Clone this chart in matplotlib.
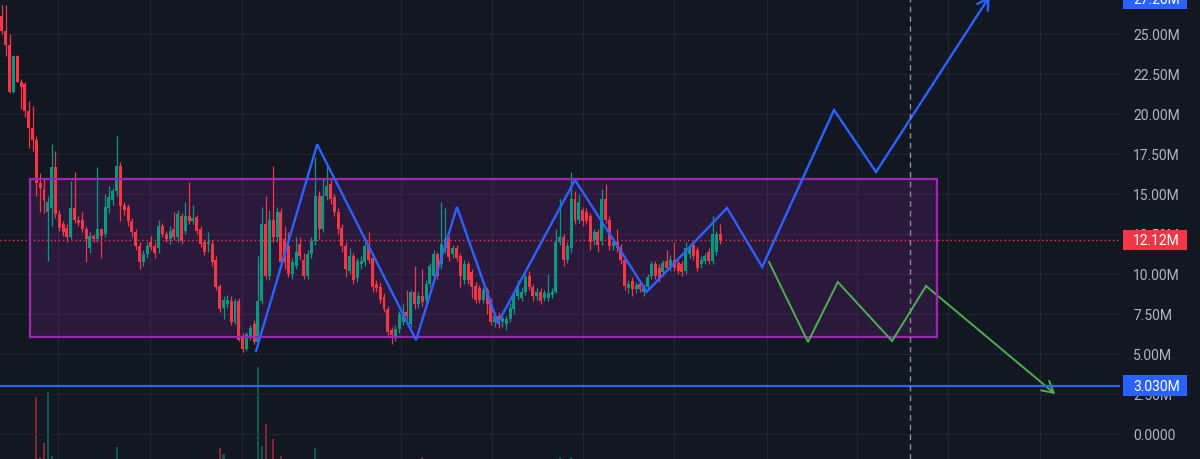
import numpy as np
import matplotlib.pyplot as plt
import matplotlib.patches as patches
import matplotlib.transforms as mtransforms

plt.rcParams['font.family'] = ['Roboto', 'DejaVu Sans']

# daily candles (values in millions)
opens = [
    26.1, 25.2, 24.3, 21.4, 23.6, 22.0, 21.9, 20.2, 19.1, 18.4,
    15.7, 15.3, 13.9, 14.1, 16.7, 13.75, 13.1, 12.9, 12.3, 14.1,
    13.4, 13.4, 12.8, 11.6, 12.4, 12.2, 12.8, 12.5, 14.1, 14.6,
    15.2, 16.75, 14.3, 14.2, 13.3, 12.6, 11.75, 10.75, 11.25, 12.0,
    11.75, 11.6, 13.0, 12.5,
    12.2, 12.8, 12.3, 13.6, 12.7, 13.6, 13.3, 13.55, 12.8, 12.0,
    11.9, 11.9, 10.9, 9.25, 7.9, 8.1, 8.3, 7.0, 8.3, 6.06,
    5.3, 6.1, 6.9, 5.75, 8.3, 13.1, 9.9, 13.4, 12.3, 13.9,
    12.2, 11.75, 10.0, 10.5, 11.9, 10.9, 9.9, 11.25, 12.05, 14.9,
    12.8, 14.9, 15.6, 14.8, 13.9, 12.9, 11.75,
    10.2, 11.1, 9.75, 10.6, 10.75, 11.75, 11.0, 9.4, 9.2, 8.55,
    7.8, 6.5, 6.06, 6.55, 7.0, 7.6, 6.9, 8.9, 8.1, 8.6,
    8.4, 9.4, 9.9, 11.25, 10.6, 11.6, 12.2, 11.25, 11.6, 11.1,
    9.6, 10.6, 10.1, 9.25, 9.1, 8.4, 9.0, 8.25, 7.0, 7.4, 7.0, 6.9, 7.2,
    7.8, 8.6, 8.5, 8.9, 9.9, 9.2, 8.6, 8.9, 8.5, 8.5,
    8.7, 8.9, 12.0, 12.3, 10.9, 11.6, 14.7, 13.4, 14.0, 13.9,
    13.6, 12.1, 12.6, 12.06, 14.7, 13.4, 11.75, 12.0, 11.7, 10.9,
    9.1, 9.55, 9.06, 9.4, 8.9, 9.2, 9.9, 10.6, 10.4, 10.1,
    10.8, 10.4, 10.9, 10.7, 10.6, 10.2, 11.25, 11.8, 11.5, 10.6,
    10.8, 11.4, 10.8, 11.4, 12.5,
]
highs = [
    26.8, 26.8, 25.0, 23.7, 23.7, 22.2, 22.0, 20.8, 20.5, 18.6,
    16.3, 16.0, 14.9, 18.1, 17.7, 14.0, 13.3, 13.1, 15.8, 16.4,
    13.6, 13.9, 13.0, 12.6, 12.5, 16.7, 12.9, 15.0, 15.5, 15.4,
    18.6, 17.0, 14.5, 14.4, 13.5, 12.8, 12.0, 11.5, 12.0, 12.4,
    12.0, 13.4, 13.2, 12.7,
    13.0, 13.9, 14.0, 13.8, 14.5, 15.75, 14.3, 13.7, 13.0, 12.2,
    12.6, 12.1, 11.1, 9.4, 8.6, 8.7, 8.6, 8.5, 8.5, 6.3,
    6.4, 6.8, 7.1, 11.1, 14.2, 14.9, 14.0, 16.75, 14.2, 14.1,
    13.0, 12.6, 11.0, 12.3, 12.3, 11.3, 11.5, 12.3, 17.3, 15.2,
    16.0, 16.9, 16.0, 15.0, 14.1, 13.1, 12.0,
    11.6, 11.3, 11.0, 11.1, 12.0, 12.6, 11.2, 9.6, 9.5, 8.8,
    8.0, 6.7, 6.8, 7.7, 8.2, 9.0, 9.0, 10.5, 8.9, 10.3,
    9.6, 10.7, 11.5, 11.4, 14.5, 14.1, 12.4, 11.8, 11.8, 11.3,
    10.9, 10.8, 10.3, 9.5, 9.3, 9.2, 9.2, 8.5, 7.6, 7.6, 7.4, 7.4, 8.2,
    8.8, 9.6, 9.2, 10.0, 10.2, 9.4, 9.1, 9.1, 9.0, 10.0,
    9.1, 12.8, 14.7, 12.5, 12.0, 16.4, 15.2, 15.0, 14.2, 14.1,
    13.8, 12.8, 12.8, 15.3, 15.6, 13.6, 12.3, 12.8, 11.9, 11.1,
    9.6, 9.8, 9.5, 9.6, 9.4, 10.0, 10.8, 10.8, 10.6, 10.9,
    11.5, 11.2, 12.0, 10.9, 10.8, 12.0, 11.9, 12.0, 11.7, 11.1,
    11.3, 11.6, 13.6, 12.7, 13.1,
]
lows = [
    25.0, 23.6, 21.3, 21.3, 22.0, 20.3, 19.8, 17.9, 17.7, 14.9,
    13.9, 13.8, 10.8, 13.0, 13.5, 12.7, 12.4, 12.0, 12.2, 13.2,
    13.0, 12.6, 10.75, 11.3, 12.0, 12.0, 11.0, 12.3, 13.8, 14.3,
    14.9, 13.3, 13.7, 13.0, 12.3, 11.5, 10.3, 10.5, 11.0, 11.5,
    11.0, 11.3, 12.3, 12.0,
    11.9, 12.1, 12.0, 11.9, 12.5, 13.1, 13.1, 12.5, 11.7, 11.2,
    11.4, 10.5, 9.0, 7.6, 7.2, 7.9, 6.8, 6.9, 5.8, 5.1,
    5.2, 5.9, 5.6, 5.6, 8.1, 9.7, 9.6, 12.0, 12.0, 10.5,
    10.3, 9.8, 9.7, 10.3, 10.9, 9.7, 9.7, 11.0, 11.8, 12.2,
    12.6, 14.6, 14.4, 13.6, 12.5, 11.4, 9.8,
    10.0, 9.4, 9.5, 10.3, 10.5, 10.7, 8.9, 8.9, 8.2, 7.6,
    6.2, 5.6, 5.8, 6.3, 6.8, 7.2, 6.7, 7.8, 7.9, 8.0,
    8.2, 9.2, 9.6, 9.7, 10.3, 11.3, 10.8, 11.0, 10.8, 9.2,
    9.4, 9.4, 8.5, 8.2, 8.2, 8.2, 7.5, 6.8, 6.7, 6.6, 6.7, 6.5, 7.0,
    7.5, 8.4, 8.3, 8.7, 9.0, 8.3, 8.4, 8.1, 8.3, 8.3,
    8.5, 8.8, 11.8, 10.5, 10.7, 11.3, 13.1, 13.2, 13.0, 13.1,
    11.5, 11.8, 11.4, 11.8, 13.2, 11.5, 11.5, 11.4, 10.6, 9.0,
    8.8, 8.6, 8.8, 8.9, 8.6, 9.0, 9.7, 9.7, 9.5, 9.9,
    10.2, 10.2, 10.2, 10.0, 9.9, 10.0, 11.0, 10.9, 10.2, 10.4,
    10.6, 10.6, 10.6, 11.2, 11.9,
]
closes = [
    25.2, 24.3, 21.4, 23.6, 22.0, 21.7, 20.2, 19.1, 18.4, 15.7,
    15.4, 14.6, 14.5, 16.7, 13.75, 12.9, 12.6, 12.3, 14.1, 13.4,
    13.2, 12.8, 12.2, 12.4, 12.2, 12.8, 12.4, 14.2, 14.8, 15.2,
    16.75, 14.25, 14.0, 13.3, 12.6, 11.75, 10.75, 11.25, 11.75, 11.7,
    11.3, 13.0, 12.5, 12.2,
    12.7, 12.3, 13.75, 12.05, 13.6, 13.3, 13.5, 12.7, 11.9, 11.4,
    12.0, 10.75, 9.2, 7.8, 8.4, 8.4, 7.0, 8.3, 5.9, 5.3,
    6.25, 6.6, 5.75, 8.3, 13.1, 9.9, 13.4, 12.3, 13.9, 10.75,
    10.75, 10.0, 10.75, 11.4, 11.1, 9.9, 11.25, 12.05, 14.9, 12.8,
    14.9, 15.5, 14.7, 13.9, 12.8, 11.75, 10.3,
    11.1, 9.6, 10.8, 10.8, 11.75, 10.9, 9.2, 9.1, 8.4, 7.8,
    6.4, 6.2, 6.55, 7.5, 7.6, 7.4, 8.9, 8.1, 8.6, 8.25,
    9.4, 10.5, 11.25, 9.9, 11.9, 12.2, 11.06, 11.6, 11.0, 9.9,
    10.6, 9.6, 9.2, 8.4, 8.4, 9.0, 8.1, 7.0, 7.4, 6.9, 7.25, 7.2, 7.9,
    8.6, 9.25, 8.9, 9.8, 9.2, 8.6, 8.9, 8.3, 8.8, 8.8,
    8.9, 12.0, 12.3, 10.9, 11.75, 14.7, 13.3, 14.5, 13.3, 13.3,
    12.0, 12.6, 11.8, 14.7, 13.4, 11.75, 12.0, 11.6, 10.9, 9.25,
    9.4, 9.06, 9.3, 9.06, 9.2, 9.8, 10.6, 9.9, 9.7, 10.7,
    10.4, 10.9, 10.4, 10.2, 10.1, 11.6, 11.7, 11.1, 10.4, 10.9,
    11.1, 10.8, 12.5, 12.5, 12.12,
]
volumes = [
    8, 7, 9, 6, 5, 6, 7, 6, 8, 72,
    12, 26, 77, 13, 9, 6, 5, 4, 7, 6,
    4, 5, 6, 4, 3, 8, 4, 6, 5, 4,
    22, 7, 4, 3, 4, 5, 6, 4, 3, 3,
    4, 6, 3, 3, 4, 5, 6, 5, 4, 7,
    3, 4, 5, 4, 3, 6, 8, 21, 15, 4,
    6, 5, 9, 8, 5, 4, 7, 102, 23, 45,
    9, 30, 8, 13, 6, 7, 4, 5, 4, 6,
    5, 6, 21, 9, 7, 8, 5, 4, 6, 7,
    8, 5, 6, 4, 3, 5, 4, 6, 3, 4,
    5, 7, 8, 5, 6, 4, 5, 7, 6, 4,
    12, 4, 6, 7, 5, 8, 6, 4, 3, 4,
    5, 4, 3, 4, 5, 4, 3, 5, 6, 4,
    3, 3, 4, 5, 6, 5, 3, 5, 4, 4,
    3, 4, 3, 3, 3, 9, 12, 7, 5, 12,
    6, 5, 4, 3, 5, 4, 4, 8, 7, 6,
    4, 3, 4, 7, 4, 3, 3, 3, 3, 4,
    5, 4, 3, 3, 3, 3, 4, 3, 3, 5,
    4, 3, 4, 3, 3, 3, 6, 4, 3,
]

# drawings (bar index, price in millions)
bull_x = [66.5, 82.5, 108.4, 119.1, 129.8, 150.0, 168.8, 189.8, 199.0, 217.8, 228.8, 258.6]
bull_y = [5.19, 18.1, 5.875, 14.19, 6.94, 15.875, 8.89, 14.125, 10.44, 20.25, 16.375, 27.375]
bear_x = [200.8, 211.0, 218.8, 233.0, 241.9, 275.7]
bear_y = [10.75, 5.75, 9.5, 5.81, 9.25, 2.5]
range_x = [7.33, 244.8]
range_y = [6.06, 15.94]
support = 3.03
last_price = 12.12
today_x = 237.7
time_grid = [14.66, 38.74, 62.83, 104.45, 128.27, 152.09, 175.92, 200.26, 223.82, 247.64, 271.73]
price_ticks = [0, 2.5, 5, 7.5, 10, 12.5, 15, 17.5, 20, 22.5, 25]

BG = '#131722'
UP = '#089981'
DOWN = '#F23645'
BLUE = '#2962FF'
GREEN = '#4CAF50'
PURPLE = '#9C27B0'

o = np.array(opens); h = np.array(highs); l = np.array(lows); c = np.array(closes)
x = np.arange(len(c))
cols = np.where(c >= o, UP, DOWN)

fig = plt.figure(figsize=(12, 4.6), dpi=100, facecolor=BG)
ax = fig.add_axes([0, 0, 1120 / 1200, 1])
ax.patch.set_visible(False)

# volume overlay underneath
axv = ax.twinx()
axv.set_zorder(ax.get_zorder() - 1)
axv.bar(x, volumes, width=0.55, color=cols, alpha=0.5, linewidth=0)
axv.set_ylim(10, 470)
axv.set_yticks([])
for s in axv.spines.values():
    s.set_visible(False)

# range box
ax.add_patch(patches.Rectangle((range_x[0], range_y[0]), range_x[1] - range_x[0],
                               range_y[1] - range_y[0], facecolor=PURPLE, alpha=0.18,
                               edgecolor='none', zorder=1))
ax.add_patch(patches.Rectangle((range_x[0], range_y[0]), range_x[1] - range_x[0],
                               range_y[1] - range_y[0], facecolor='none',
                               edgecolor=PURPLE, lw=1.6, zorder=4))

# candles
ax.vlines(x, l, h, color=cols, lw=0.9, zorder=2)
ax.bar(x, np.maximum(np.abs(c - o), 0.06), bottom=np.minimum(o, c), width=0.78,
       color=cols, linewidth=0, zorder=3)

ax.axhline(last_price, color=DOWN, lw=1, ls=(0, (1, 2)), zorder=2)
ax.axhline(support, color=BLUE, lw=1.6, zorder=5)
ax.axvline(today_x, color='#8a8d96', lw=1, ls=(0, (4, 3)), zorder=5)

# scenario paths
ax.plot(bull_x[:-1], bull_y[:-1], color=BLUE, lw=1.7, solid_joinstyle='miter', zorder=6)
ax.annotate('', xy=(bull_x[-1], bull_y[-1]), xytext=(bull_x[-2], bull_y[-2]),
            annotation_clip=False,
            arrowprops=dict(arrowstyle='->,head_length=0.8,head_width=0.45',
                            color=BLUE, lw=1.7, shrinkA=0, shrinkB=0, mutation_scale=10))
ax.plot(bear_x[:-1], bear_y[:-1], color=GREEN, lw=1.4, solid_joinstyle='miter', zorder=6)
ax.annotate('', xy=(bear_x[-1], bear_y[-1]), xytext=(bear_x[-2], bear_y[-2]),
            annotation_clip=False,
            arrowprops=dict(arrowstyle='->,head_length=0.8,head_width=0.45',
                            color=GREEN, lw=1.4, shrinkA=0, shrinkB=0, mutation_scale=10))

ax.set_xticks(time_grid)
ax.set_yticks(price_ticks)
ax.set_yticklabels(['0.0000' if v == 0 else f'{v:.2f}M' for v in price_ticks])
ax.yaxis.tick_right()
ax.tick_params(axis='x', length=0, labelbottom=False)
ax.tick_params(axis='y', length=0, pad=9.4, labelcolor='#b2b5be', labelsize=10)
ax.grid(True, color='#232632', lw=0.8, zorder=0)
ax.set_axisbelow(True)
for s in ax.spines.values():
    s.set_visible(False)

# price scale badges
trans = mtransforms.blended_transform_factory(fig.transFigure, ax.transData)
for val, txt, col in [(27.2, '27.20M', BLUE), (last_price, '12.12M', DOWN), (support, '3.030M', BLUE)]:
    ax.add_patch(patches.Rectangle((1123 / 1200, val - 0.65), 64 / 1200, 1.3, transform=trans,
                                   facecolor=col, edgecolor='none', clip_on=False, zorder=10))
    ax.text(1133 / 1200, val, txt, transform=trans, color='white', fontsize=10,
            ha='left', va='center', clip_on=False, zorder=11)

ax.set_xlim(-0.52, 292.67)
ax.set_ylim(-1.5625, 27.1875)

fig.savefig('out.png', dpi=100, facecolor=BG)
